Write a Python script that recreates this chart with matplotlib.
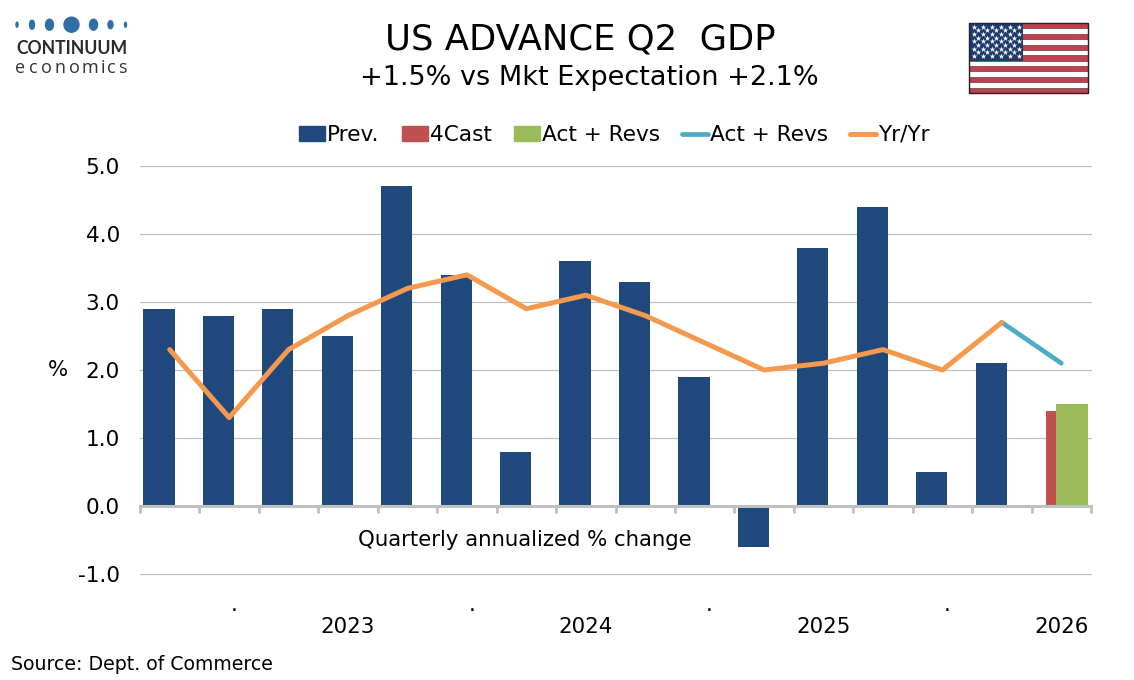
"""US advance Q2 GDP: quarterly annualized bars with the yr/yr line."""

import numpy as np
import matplotlib
matplotlib.use('Agg')
import matplotlib.pyplot as plt
from matplotlib.lines import Line2D
from matplotlib.patches import Ellipse, Patch, Rectangle

plt.rcParams['font.family'] = ['DejaVu Sans']

# === Data ===
prev_vals = [2.9, 2.8, 2.9, 2.5, 4.7, 3.4, 0.8, 3.6, 3.3, 1.9, -0.6, 3.8, 4.4, 0.5, 2.1]
cast_vals = [1.4]
act_vals = [1.5]
act_line = [2.7, 2.1]
yoy_vals = [2.3, 1.3, 2.3, 2.8, 3.2, 3.4, 2.9, 3.1, 2.8, 2.4, 2.0, 2.1, 2.3, 2.0, 2.7]
year_labels = ['2023', '2024', '2025', '2026']
year_pos = [3, 7, 11, 15]
dot_pos = [1, 5, 9, 13]
y_ticks = [-1, 0, 1, 2, 3, 4, 5]

NAVY, RED, GREEN = '#1F497D', '#C0504D', '#9BBB59'
TEAL, ORANGE = '#4BACC6', '#F4994E'
GRID = '#C0C0C0'
W, H = 1134, 680
FS = 15.4

fig = plt.figure(figsize=(W / 100, H / 100), dpi=100)
ax = fig.add_axes([140 / W, 1 - 574 / H, 951 / W, 408 / H])

# === Bars: three overlapping slots per quarter ===
BAR_W = 0.525
SHIFT = 0.18
x_prev = np.arange(len(prev_vals))
x_last = len(prev_vals)
ax.bar(x_prev - SHIFT, prev_vals, BAR_W, color=NAVY, zorder=3)
ax.bar([x_last], cast_vals, BAR_W, color=RED, zorder=3)
ax.bar([x_last + SHIFT], act_vals, BAR_W, color=GREEN, zorder=4)

# === Lines ===
ax.plot([x_last - 1, x_last], act_line, color=TEAL, lw=3.4, zorder=5, solid_capstyle='round')
ax.plot(x_prev, yoy_vals, color=ORANGE, lw=3.6, zorder=6,
        solid_capstyle='round', solid_joinstyle='round')

# === Axes ===
ax.set_xlim(-0.5, x_last + 0.5)
ax.set_ylim(-1, 5)
ax.set_yticks(y_ticks)
ax.set_yticklabels([f'{v:.1f}' for v in y_ticks], fontsize=15.6, color='black')
ax.yaxis.grid(True, color=GRID, lw=0.9, clip_on=False)
ax.set_axisbelow(True)
ax.tick_params(axis='y', length=0, pad=14.5)
ax.set_xticks(np.arange(-0.5, x_last + 1))
ax.set_xticklabels([])
ax.tick_params(axis='x', length=5, width=2, color=GRID, direction='out')
for side in ['left', 'right', 'top']:
    ax.spines[side].set_visible(False)
ax.spines['bottom'].set_position(('data', 0))
ax.spines['bottom'].set_color(GRID)
ax.spines['bottom'].set_linewidth(2.2)
ax.spines['bottom'].set_zorder(5)

for pos, lab in zip(year_pos, year_labels):
    ax.text(pos, -1.78, lab, fontsize=FS, ha='center', va='center')
for pos in dot_pos:
    ax.text(pos + 0.08, -1.46, '.', fontsize=FS, ha='center', va='center')
ax.text(-1.875, 2.0, '%', fontsize=FS, ha='center', va='center')
ax.text(5.98, -0.5, 'Quarterly annualized % change', fontsize=15.3, ha='center', va='center')

handles = [Patch(color=NAVY), Patch(color=RED), Patch(color=GREEN),
           Line2D([], [], color=TEAL, lw=3.4, solid_capstyle='round'),
           Line2D([], [], color=ORANGE, lw=3.6, solid_capstyle='round')]
labels = ['Prev.', '4Cast', 'Act + Revs', 'Act + Revs', 'Yr/Yr']
ax.legend(handles, labels, loc='center', bbox_to_anchor=(614.5 / W, 1 - 135 / H),
          bbox_transform=fig.transFigure, ncol=5, frameon=False, fontsize=15.6,
          handlelength=1.2, handleheight=0.65, handletextpad=0.1, columnspacing=1.02,
          borderpad=0, labelspacing=0)

# === Titles ===
fig.text(580.5 / W, 1 - 40 / H, 'US ADVANCE Q2  GDP', fontsize=25.5, ha='center', va='center')
fig.text(589.5 / W, 1 - 78 / H, '+1.5% vs Mkt Expectation +2.1%', fontsize=19.5, ha='center', va='center')
fig.text(11 / W, 1 - 664 / H, 'Source: Dept. of Commerce', fontsize=13.6, ha='left', va='center')

# === Pixel-space overlay for the logo and flag ===
over = fig.add_axes([0, 0, 1, 1], zorder=10)
over.set_xlim(0, W)
over.set_ylim(H, 0)
over.axis('off')
over.patch.set_alpha(0)

for cx, dw, dh in [(17, 2, 5), (32, 5, 9), (49.5, 8, 11), (71.5, 15, 15),
                   (93.5, 8, 11), (110.5, 5, 8), (125.5, 2, 5)]:
    over.add_patch(Ellipse((cx, 24.7), dw, dh, color='#2F6FA7'))
over.text(71.5, 48.5, 'CONTINUUM', fontsize=12.7, fontweight='bold', color='#2B2B2B',
          family='Lato', ha='center', va='center')
for cx, ch in zip([20.5, 33.5, 46.5, 60.5, 74, 90, 103, 111, 122], 'economics'):
    over.text(cx, 66, ch, fontsize=13, color='#333333', family='Open Sans',
              ha='center', va='center_baseline')

FX, FY, FW, FH = 969, 23, 119, 70
stripe_h = FH / 13
for i in range(13):
    if i % 2 == 0:
        over.add_patch(Rectangle((FX, FY + i * stripe_h), FW, stripe_h,
                                 facecolor='#C0404D', edgecolor='#6E3A3F', lw=0.5))
over.add_patch(Rectangle((FX, FY), 54, 7 * stripe_h, facecolor='#1C3A6E', edgecolor='none'))
over.add_patch(Rectangle((FX, FY), FW, FH, fill=False, edgecolor='#222222', lw=1))
star_x, star_y = [], []
for row in range(9):
    n_col = 6 if row % 2 == 0 else 5
    x0 = FX + 4.5 if row % 2 == 0 else FX + 9
    for col in range(n_col):
        star_x.append(x0 + col * 9)
        star_y.append(FY + 3.5 + row * 3.7)
over.scatter(star_x, star_y, marker='*', s=18, color='white', linewidths=0)

fig.savefig('out.png', dpi=100)
